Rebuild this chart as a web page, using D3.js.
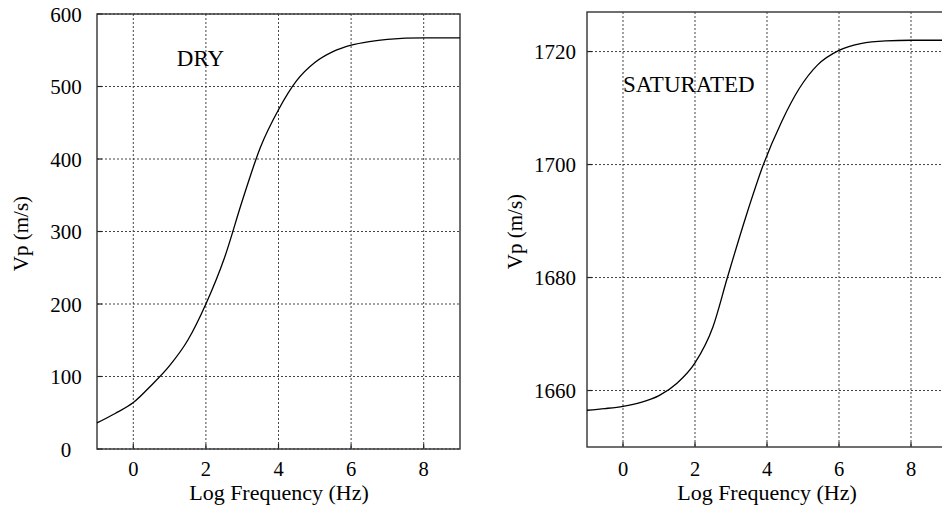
<!DOCTYPE html>
<html>
<head>
<meta charset="utf-8">
<script src="https://cdn.jsdelivr.net/npm/d3@7"></script>
<style>
  html, body { margin: 0; padding: 0; background: #fff; }
  svg { display: block; }
  svg text { font-family: "Liberation Serif", "DejaVu Serif", "Times New Roman", Times, serif; fill: #000; }
</style>
</head>
<body>
<svg id="chart" width="942" height="514" font-family="Liberation Serif, DejaVu Serif, serif"></svg>
<script>
// ---------- data ----------
const xTicks = [0, 2, 4, 6, 8];

const dryLogF = [-1, -0.5, 0, 0.5, 1.0, 1.5, 2.0, 2.5, 3.0, 3.5, 4.0, 4.5, 5.0, 5.5, 6.0, 6.5, 7.0, 8.0, 9.0];
const dryVp   = [36, 49, 64, 88, 115, 150, 200, 262, 342, 416, 468, 508, 533, 548, 557, 562, 565, 567, 567];
const dryYTicks = [0, 100, 200, 300, 400, 500, 600];

const satLogF = [-1, -0.5, 0, 0.5, 1.0, 1.5, 2.0, 2.5, 2.9, 3.4, 3.9, 4.4, 4.9, 5.4, 6.0, 6.6, 7.3, 8.0, 9.0];
const satVp   = [1656.5, 1656.8, 1657.2, 1657.9, 1659.1, 1661.3, 1664.9, 1671.3, 1680.0, 1690.5, 1700.0, 1707.5, 1713.5, 1717.6, 1720.2, 1721.4, 1721.9, 1722.0, 1722.0];
const satYTicks = [1660, 1680, 1700, 1720];

const xLabel = "Log Frequency (Hz)";
const yLabel = "Vp (m/s)";

// ---------- drawing ----------
const svg = d3.select("#chart");

function panel(cfg) {
  const g = svg.append("g");
  const x = d3.scaleLinear().domain([-1, 9]).range([cfg.left, cfg.right]);
  const y = d3.scaleLinear().domain(cfg.yDomain).range([cfg.bottom, cfg.top]);

  // grid (dotted)
  g.append("g").selectAll("line").data(xTicks).join("line")
    .attr("x1", d => x(d)).attr("x2", d => x(d))
    .attr("y1", cfg.top).attr("y2", cfg.bottom)
    .attr("stroke", "#444").attr("stroke-width", 1).attr("stroke-dasharray", "2,2");
  g.append("g").selectAll("line").data(cfg.yTicks).join("line")
    .attr("x1", cfg.left).attr("x2", cfg.right)
    .attr("y1", d => y(d)).attr("y2", d => y(d))
    .attr("stroke", "#444").attr("stroke-width", 1).attr("stroke-dasharray", "2,2");

  // small inner ticks
  g.append("g").selectAll("line").data(xTicks).join("line")
    .attr("x1", d => x(d)).attr("x2", d => x(d))
    .attr("y1", cfg.bottom).attr("y2", cfg.bottom - 5)
    .attr("stroke", "#222").attr("stroke-width", 1.2);
  g.append("g").selectAll("line").data(cfg.yTicks).join("line")
    .attr("x1", cfg.left).attr("x2", cfg.left + 5)
    .attr("y1", d => y(d)).attr("y2", d => y(d))
    .attr("stroke", "#222").attr("stroke-width", 1.2);

  // frame
  g.append("rect")
    .attr("x", cfg.left).attr("y", cfg.top)
    .attr("width", cfg.right - cfg.left).attr("height", cfg.bottom - cfg.top)
    .attr("fill", "none").attr("stroke", "#333").attr("stroke-width", 1.4);

  // curve
  const line = d3.line().x(d => x(d[0])).y(d => y(d[1])).curve(d3.curveMonotoneX);
  g.append("path")
    .datum(cfg.xs.map((v, i) => [v, cfg.ys[i]]))
    .attr("d", line)
    .attr("fill", "none").attr("stroke", "#000").attr("stroke-width", 1.3);

  // tick labels
  g.append("g").selectAll("text").data(xTicks).join("text")
    .attr("x", d => x(d)).attr("y", 476)
    .attr("text-anchor", "middle").attr("font-size", 20.5)
    .text(d => d);
  g.append("g").selectAll("text").data(cfg.yTicks).join("text")
    .attr("x", cfg.yLabelX).attr("y", d => y(d) + 7.5)
    .attr("text-anchor", "middle").attr("font-size", 21)
    .text(d => d);

  // axis titles
  g.append("text")
    .attr("x", cfg.titleX).attr("y", 500)
    .attr("text-anchor", "middle").attr("font-size", 22)
    .text(xLabel);
  g.append("text")
    .attr("transform", `translate(${cfg.yTitleX},${(cfg.top + cfg.bottom) / 2 + 2}) rotate(-90)`)
    .attr("text-anchor", "middle").attr("font-size", 21)
    .text(yLabel);

  // annotation
  g.append("text")
    .attr("x", x(cfg.note[0])).attr("y", y(cfg.note[1]))
    .attr("font-size", 23)
    .text(cfg.note[2]);
}

panel({
  left: 97, right: 460, top: 14, bottom: 449,
  yDomain: [0, 600], yTicks: dryYTicks,
  xs: dryLogF, ys: dryVp,
  yLabelX: 66, yTitleX: 28, titleX: 279,
  note: [1.2, 528, "DRY"]
});

panel({
  left: 587, right: 947, top: 12, bottom: 447,
  yDomain: [1650, 1727], yTicks: satYTicks,
  xs: satLogF, ys: satVp,
  yLabelX: 555, yTitleX: 522, titleX: 767,
  note: [0, 1712.9, "SATURATED"]
});
</script>
</body>
</html>
